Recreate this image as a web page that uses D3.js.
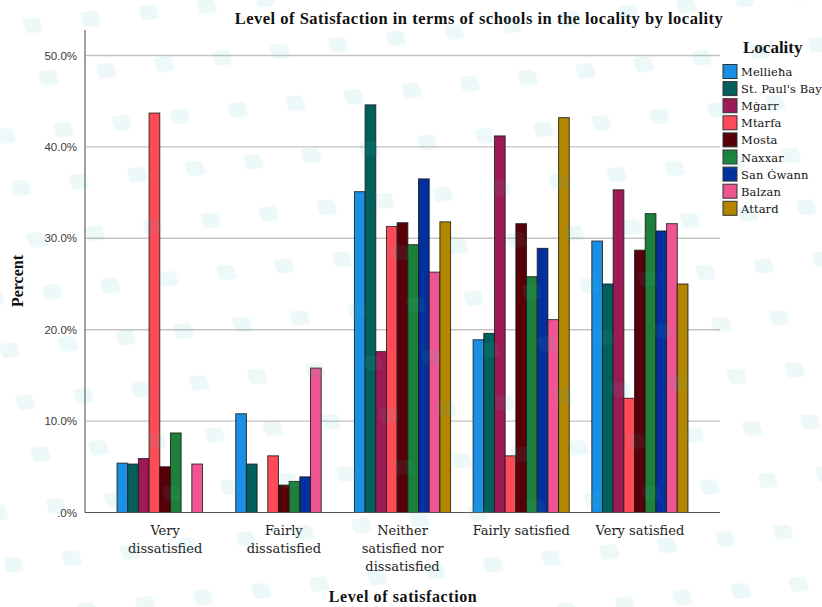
<!DOCTYPE html>
<html>
<head>
<meta charset="utf-8">
<script src="https://cdn.jsdelivr.net/npm/d3@7"></script>
<style>
  html, body { margin: 0; padding: 0; background: #fff; }
  svg { display: block; }
  svg text.serif { font-family: "Liberation Serif", "Times New Roman", serif; }
  svg text.serif-reg { font-family: "DejaVu Serif", serif; }
</style>
</head>
<body>
<svg id="chart" width="822" height="607"></svg>
<script>
// Satisfaction levels along the x axis (lines of each wrapped label)
const levels = [
  "Very dissatisfied",
  "Fairly dissatisfied",
  "Neither satisfied nor dissatisfied",
  "Fairly satisfied",
  "Very satisfied"
];
const levelLabelLines = [
  ["Very", "dissatisfied"],
  ["Fairly", "dissatisfied"],
  ["Neither", "satisfied nor", "dissatisfied"],
  ["Fairly satisfied"],
  ["Very satisfied"]
];

// Localities (legend order)
const localities = ["Mellieħa", "St. Paul's Bay", "Mġarr", "Mtarfa", "Mosta", "Naxxar", "San Ġwann", "Balzan", "Attard"];
const localityColors = ["#1a8fe3", "#02605c", "#9e1a56", "#ff4b57", "#570009", "#1c803a", "#02309c", "#ef5691", "#b38600"];

// Percent of respondents per locality, one value for each satisfaction level
const mellieha   = [5.4, 10.8, 35.1, 18.9, 29.7];
const stPaulsBay = [5.3,  5.3, 44.6, 19.6, 25.0];
const mgarr      = [5.9,  0.0, 17.6, 41.2, 35.3];
const mtarfa     = [43.7, 6.2, 31.3,  6.2, 12.5];
const mosta      = [5.0,  3.0, 31.7, 31.6, 28.7];
const naxxar     = [8.7,  3.4, 29.3, 25.8, 32.7];
const sanGwann   = [0.0,  3.9, 36.5, 28.9, 30.8];
const balzan     = [5.3, 15.8, 26.3, 21.1, 31.6];
const attard     = [0.0,  0.0, 31.8, 43.2, 25.0];
const seriesValues = [mellieha, stPaulsBay, mgarr, mtarfa, mosta, naxxar, sanGwann, balzan, attard];

// Y axis ticks
const yTicks = [0, 10, 20, 30, 40, 50];

const SANS = "'Liberation Sans', Arial, sans-serif";

const svg = d3.select("#chart");
const plot = { left: 85, right: 720, top: 30, bottom: 512.5 };

const x0 = d3.scaleBand()
  .domain(levels)
  .range([plot.left, plot.right])
  .paddingInner(0.19)
  .paddingOuter(0.27);

const x1 = d3.scaleBand()
  .domain(localities)
  .range([0, x0.bandwidth()]);

const y = d3.scaleLinear()
  .domain([0, 50])
  .range([plot.bottom, 55.5]);

const color = d3.scaleOrdinal().domain(localities).range(localityColors);

// Horizontal gridlines
svg.append("g")
  .selectAll("line")
  .data(yTicks.filter(t => t > 0))
  .join("line")
  .attr("x1", plot.left)
  .attr("x2", plot.right)
  .attr("y1", d => y(d))
  .attr("y2", d => y(d))
  .attr("stroke", "#c4c4c4")
  .attr("stroke-width", 1.4);

// Y axis with percent labels
const yAxis = d3.axisLeft(y)
  .tickValues(yTicks)
  .tickSize(0)
  .tickPadding(8)
  .tickFormat(d => d === 0 ? ".0%" : d3.format(".1f")(d) + "%");

const yg = svg.append("g")
  .attr("transform", `translate(${plot.left},0)`)
  .call(yAxis)
  .attr("font-family", SANS)
  .attr("font-size", 11.5);
yg.select(".domain").remove();
yg.selectAll("text").attr("fill", "#3a3a3a");

svg.append("line")
  .attr("x1", plot.left).attr("x2", plot.left)
  .attr("y1", plot.top).attr("y2", plot.bottom)
  .attr("stroke", "#8a8a8a")
  .attr("stroke-width", 1.6);

// Bars
const rows = [];
levels.forEach((lvl, i) => {
  localities.forEach((loc, j) => {
    rows.push({ level: lvl, locality: loc, value: seriesValues[j][i] });
  });
});

svg.append("g")
  .selectAll("rect")
  .data(rows.filter(d => d.value > 0))
  .join("rect")
  .attr("x", d => x0(d.level) + x1(d.locality))
  .attr("y", d => y(d.value))
  .attr("width", x1.bandwidth())
  .attr("height", d => y(0) - y(d.value))
  .attr("fill", d => color(d.locality))
  .attr("stroke", "#1c1c1c")
  .attr("stroke-opacity", 0.85)
  .attr("stroke-width", 1);

// Baseline
svg.append("line")
  .attr("x1", plot.left).attr("x2", plot.right)
  .attr("y1", plot.bottom).attr("y2", plot.bottom)
  .attr("stroke", "#555")
  .attr("stroke-width", 1.2);

// X axis category labels
const xl = svg.append("g");
levels.forEach((lvl, i) => {
  const cx = x0(lvl) + x0.bandwidth() / 2;
  const t = xl.append("text")
    .attr("class", "serif-reg")
    .attr("x", cx)
    .attr("y", 535)
    .attr("text-anchor", "middle")
    .attr("font-size", 13)
    .attr("fill", "#222");
  levelLabelLines[i].forEach((line, k) => {
    t.append("tspan")
      .attr("x", cx)
      .attr("dy", k === 0 ? 0 : 18)
      .text(line);
  });
});

// Axis titles
svg.append("text")
  .attr("class", "serif")
  .attr("x", 403)
  .attr("y", 602)
  .attr("text-anchor", "middle")
  .attr("font-size", 16)
  .attr("letter-spacing", 0.6)
  .attr("font-weight", "bold")
  .attr("fill", "#111")
  .text("Level of satisfaction");

svg.append("text")
  .attr("class", "serif")
  .attr("transform", "translate(23,281) rotate(-90)")
  .attr("text-anchor", "middle")
  .attr("font-size", 16)
  .attr("font-weight", "bold")
  .attr("fill", "#111")
  .text("Percent");

// Chart title
svg.append("text")
  .attr("class", "serif")
  .attr("x", 479)
  .attr("y", 24)
  .attr("text-anchor", "middle")
  .attr("font-size", 16.5)
  .attr("letter-spacing", 0.5)
  .attr("font-weight", "bold")
  .attr("fill", "#111")
  .text("Level of Satisfaction in terms of schools in the locality by locality");

// Legend
const legend = svg.append("g");
legend.append("text")
  .attr("class", "serif")
  .attr("x", 743)
  .attr("y", 53)
  .attr("font-size", 17)
  .attr("font-weight", "bold")
  .attr("fill", "#111")
  .text("Locality");

const item = legend.selectAll("g.item")
  .data(localities)
  .join("g")
  .attr("class", "item")
  .attr("transform", (d, i) => `translate(723,${64.5 + i * 17.1})`);

item.append("rect")
  .attr("width", 14)
  .attr("height", 14)
  .attr("fill", d => color(d))
  .attr("stroke", "#333")
  .attr("stroke-width", 1);

item.append("text")
  .attr("class", "serif-reg")
  .attr("x", 18)
  .attr("y", 11.5)
  .attr("font-size", 11.5)
  .attr("letter-spacing", 0.1)
  .attr("fill", "#111")
  .text(d => d);

// Faint background watermark of rounded tiles laid over the whole page
const defs = svg.append("defs");
const pat = defs.append("pattern")
  .attr("id", "tiles")
  .attr("patternUnits", "userSpaceOnUse")
  .attr("width", 1)
  .attr("height", 1)
  .attr("patternTransform", "matrix(58,-6.5,15.5,52,110.8,116.5)");
pat.append("rect")
  .attr("x", 0).attr("y", 0)
  .attr("width", 0.3).attr("height", 0.28)
  .attr("rx", 0.07).attr("ry", 0.07)
  .attr("fill", "#3cb4b4");

svg.append("rect")
  .attr("width", 822)
  .attr("height", 607)
  .attr("fill", "url(#tiles)")
  .attr("opacity", 0.09)
  .attr("pointer-events", "none");
</script>
</body>
</html>
